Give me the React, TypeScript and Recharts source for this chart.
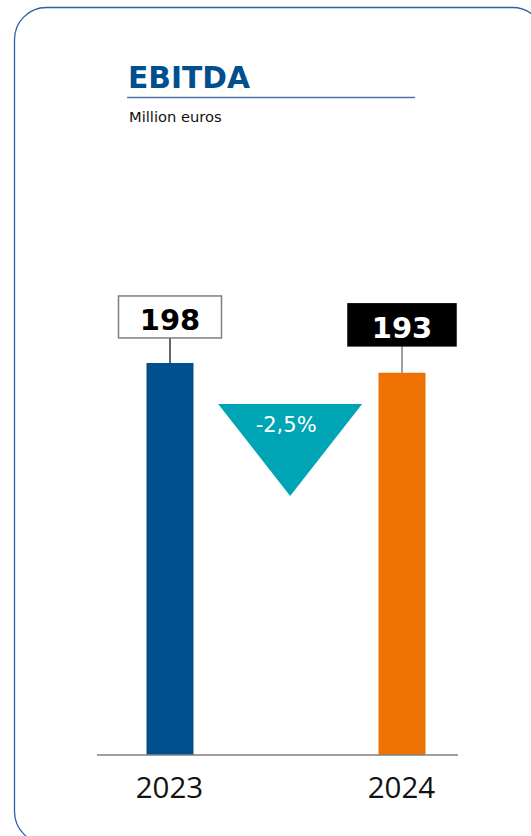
import React from 'react';
import { BarChart, Bar, XAxis, YAxis, Cell, LabelList, ReferenceDot } from 'recharts';

const years = ['2023', '2024'];
const ebitda = [198, 193];
const barColors = ['#00508F', '#EE7203'];
const labelStyles = [
  { box: '#FFFFFF', text: '#000000', stroke: '#7F7F7F', line: '#333333', boxW: 103, gap: 25 },
  { box: '#000000', text: '#FFFFFF', stroke: '#000000', line: '#7F7F7F', boxW: 108, gap: 27 },
];
const title = 'EBITDA';
const subtitle = 'Million euros';

const changePct = ((ebitda[1] - ebitda[0]) / ebitda[0]) * 100;
const changeLabel = changePct.toFixed(1).replace('.', ',') + '%';

const data = years.map((y, i) => ({ idx: i, year: y, value: ebitda[i] }));

const ValueLabel = (props: any) => {
  const { x, y, width, value, index } = props;
  const s = labelStyles[index];
  const cx = x + width / 2;
  const boxH = 42;
  const boxBottom = y - s.gap;
  return (
    <g>
      <line x1={cx} x2={cx} y1={boxBottom} y2={y} stroke={s.line} strokeWidth={1.5} />
      <rect x={cx - s.boxW / 2} y={boxBottom - boxH} width={s.boxW} height={boxH} fill={s.box} stroke={s.stroke} strokeWidth={1.5} />
      <text x={cx} y={boxBottom - 8} textAnchor="middle" fontFamily="DejaVu Sans" fontWeight="bold" fontSize={29} fill={s.text}>
        {value}
      </text>
    </g>
  );
};

const YearTick = (props: any) => {
  const { x, y, payload } = props;
  return (
    <text x={x} y={y + 43} textAnchor="middle" fontFamily="Open Sans" fontSize={29.5} fill="#111111">
      {years[payload.value]}
    </text>
  );
};

const Triangle = (props: any) => {
  const { cx, cy } = props;
  const w = 144;
  const h = 92;
  return (
    <g>
      <polygon points={`${cx - w / 2},${cy} ${cx + w / 2},${cy} ${cx},${cy + h}`} fill="#00A5B5" />
      <text x={cx - 4} y={cy + 28} textAnchor="middle" fontFamily="DejaVu Sans" fontSize={21} fill="#FFFFFF">
        {changeLabel}
      </text>
    </g>
  );
};

export default function App() {
  return (
    <div style={{ position: 'absolute', left: 0, top: 0, width: 531, height: 836, background: '#fff', overflow: 'hidden' }}>
      <svg width={531} height={836} style={{ position: 'absolute', left: 0, top: 0 }}>
        <rect x={14.5} y={7.5} width={530} height={836} rx={32} ry={32} fill="none" stroke="#2A64A3" strokeWidth={1.3} />
        <text x={128} y={87.5} fontFamily="DejaVu Sans" fontWeight="bold" fontSize={31} fill="#004F8F" textLength={122} lengthAdjust="spacingAndGlyphs">
          {title}
        </text>
        <line x1={127} x2={415} y1={97.5} y2={97.5} stroke="#4F74A8" strokeWidth={1.5} />
        <text x={129} y={122} fontFamily="DejaVu Sans" fontSize={14.7} fill="#111111">
          {subtitle}
        </text>
      </svg>
      <div style={{ position: 'absolute', left: 0, top: 0 }}>
        <BarChart width={531} height={836} data={data} margin={{ top: 161, right: 73, bottom: 21, left: 97 }}>
          <XAxis
            type="number"
            dataKey="idx"
            domain={[-0.3125, 1.2435]}
            allowDataOverflow
            ticks={[0, 1]}
            tick={<YearTick />}
            tickSize={0}
            tickMargin={0}
            height={60}
            axisLine={{ stroke: '#808080', strokeWidth: 1.5 }}
            tickLine={false}
            interval={0}
          />
          <YAxis hide domain={[0, 300]} />
          <Bar dataKey="value" barSize={47} isAnimationActive={false}>
            {data.map((d, i) => (
              <Cell key={d.year} fill={barColors[i]} />
            ))}
            <LabelList dataKey="value" content={<ValueLabel />} />
          </Bar>
          <ReferenceDot x={0.52} y={177.3} r={0} shape={<Triangle />} ifOverflow="visible" />
        </BarChart>
      </div>
    </div>
  );
}
